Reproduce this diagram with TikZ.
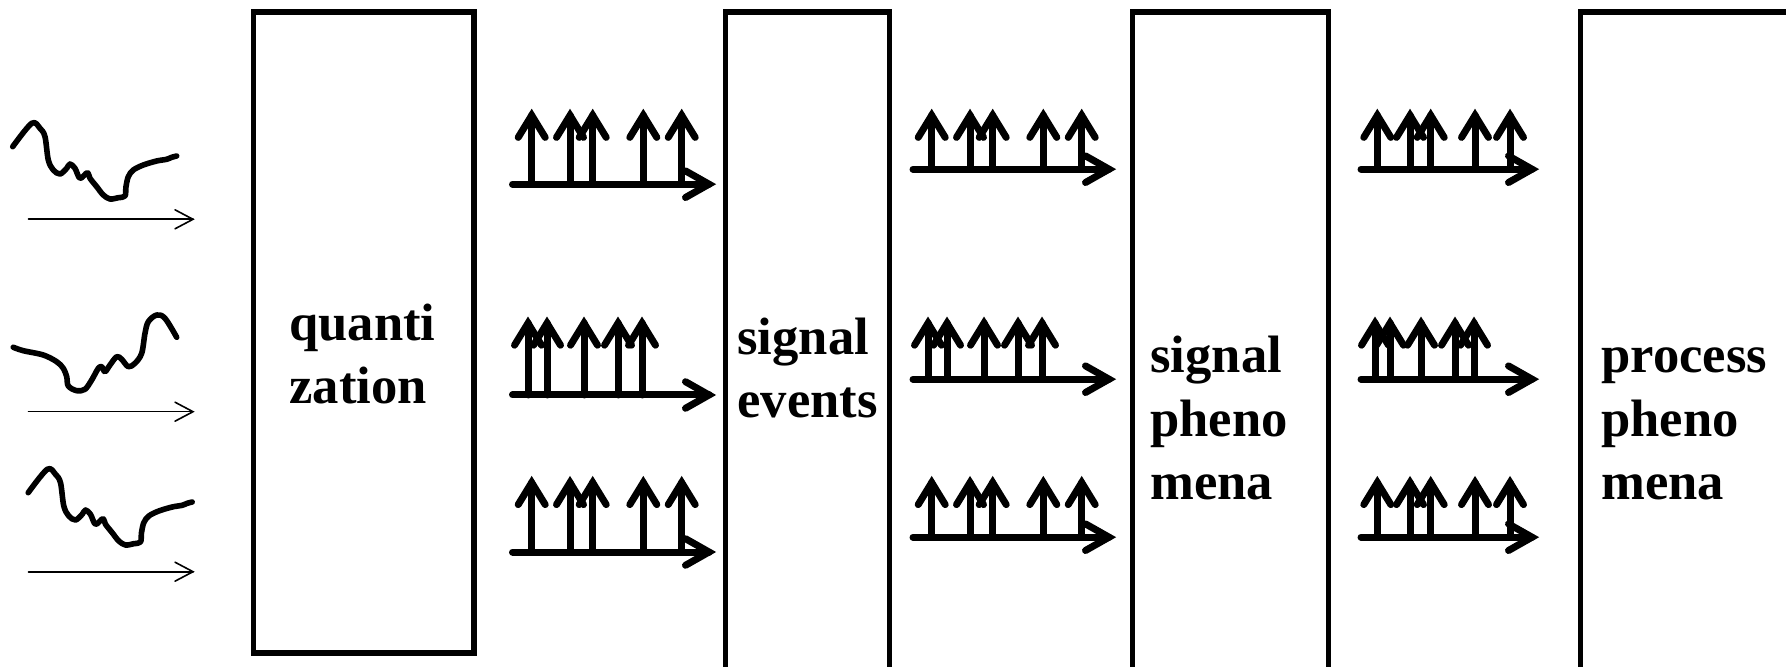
\documentclass[tikz,border=0pt]{standalone}
\usepackage{fontspec}
\setmainfont{Liberation Serif}
\usetikzlibrary{fit,calc}

% one spike train: axis from #1 to #2 at height #3, spikes rising to #4 at the x positions in #5
\newcommand\spiketrain[5]{%
  \draw[train] (#1,#3) -- (#2,#3);
  \draw[train, line join=miter] ($(#2,#3)+(-23.5,-13.3)$) -- (#2,#3) -- ($(#2,#3)+(-23.5,13.3)$);
  \foreach \s in {#5}{%
    \draw[train] (\s,#3) -- (\s,#4);
    \draw[train, line join=miter] ($(\s,#4)+(-13.5,22)$) -- (\s,#4) -- ($(\s,#4)+(13.5,22)$);
  }%
}
% thin time axis under an analogue signal
\newcommand\timeaxis[3]{%
  \draw[axisline] (#1,#3) -- (#2,#3);
  \draw[axisline] ($(#2,#3)+(-18,-9.5)$) -- (#2,#3) -- ($(#2,#3)+(-18,9.5)$);
}

\tikzset{
  blockbox/.style={draw, line width=2.75pt, inner sep=0pt},
  train/.style={line width=3.5pt, line cap=round},
  axisline/.style={line width=0.8pt, line cap=round},
  wave/.style={line width=2.8pt, line cap=round, line join=round},
  blocktext/.style={anchor=base west, align=left, inner sep=0pt,
    font=\fontsize{26.3pt}{31.5pt}\selectfont\bfseries},
}

\begin{document}
\begin{tikzpicture}[x=0.5pt, y=-0.5pt]
\useasboundingbox (0,0) rectangle (1786,667);
\clip (0,0) rectangle (1786,667);

% processing stages
\coordinate (q1) at (253.4,12);   \coordinate (q2) at (474,653.2);
\coordinate (e1) at (725.5,12);   \coordinate (e2) at (889.7,720);
\coordinate (s1) at (1132.7,12);  \coordinate (s2) at (1328.6,720);
\coordinate (p1) at (1580.4,12);  \coordinate (p2) at (1860,720);
\node[blockbox, fit=(q1)(q2)] (quant) {};
\node[blockbox, fit=(e1)(e2)] (events) {};
\node[blockbox, fit=(s1)(s2)] (sigphen) {};
\node[blockbox, fit=(p1)(p2)] (procphen) {};

% labels, anchored at the baseline of their last line
\node[blocktext] (tquant) at (289,404) {quanti\\zation};
\node[blocktext] (tevents) at (737,418) {signal\\events};
\node[blocktext] (tsig) at (1150,499) {signal\\pheno\\mena};
\node[blocktext] (tproc) at (1601,499) {process\\pheno\\mena};

% analogue input signals
\draw[wave] plot[smooth, tension=0.55] coordinates {
  (12.7,146.7) (31.7,123.3) (40,128.3) (45,136.7) (48.3,160) (53.3,170) (60,174)
  (66.7,168.3) (70,164) (75,168.3) (80,178.3) (87.3,172.7) (90,178.3) (96.7,186.7)
  (103.3,195) (110,199) (118.3,197.7) (125,196) (126,186.7) (128.3,176.7) (133.3,170)
  (143.3,165) (156.7,161) (166.7,159.3) (171.7,157.3) (176.7,156)};
\draw[wave] plot[smooth, tension=0.55] coordinates {
  (13.3,347.3) (23.3,350.7) (43.3,355) (56.7,361.7) (63.3,368.3) (66.7,376.7)
  (68.3,386) (76.7,390.7) (85,389.3) (91.7,380) (98.3,368.3) (101.7,366.7)
  (105,371.7) (110,365) (116.7,356.7) (121.7,359.3) (128.3,366.7) (135,363.3)
  (141.7,353.3) (145,333.3) (148.3,321.7) (156.7,315) (165,318.3) (176.7,337.3)};
\begin{scope}[shift={(15.5,346)}]
\draw[wave] plot[smooth, tension=0.55] coordinates {
  (12.7,146.7) (31.7,123.3) (40,128.3) (45,136.7) (48.3,160) (53.3,170) (60,174)
  (66.7,168.3) (70,164) (75,168.3) (80,178.3) (87.3,172.7) (90,178.3) (96.7,186.7)
  (103.3,195) (110,199) (118.3,197.7) (125,196) (126,186.7) (128.3,176.7) (133.3,170)
  (143.3,165) (156.7,161) (166.7,159.3) (171.7,157.3) (176.7,156)};
\end{scope}
\timeaxis{28.5}{193}{219.3}
\timeaxis{28.5}{193}{411.7}
\timeaxis{28.5}{193}{571.7}

% quantized event trains
\spiketrain{512.5}{709}{184.2}{115.4}{531.7,570,592.7,643.3,681.7}
\spiketrain{512.5}{709}{395}{323.2}{528,547,584,618,642}
\spiketrain{512.5}{709}{552}{482.6}{531.7,570,592.7,643.3,681.7}

\spiketrain{913}{1109}{169.2}{115.4}{931.7,970,992.7,1043.3,1081.7}
\spiketrain{913}{1109}{379.2}{323.2}{928,947,984,1018,1042}
\spiketrain{913}{1109}{537.2}{482.6}{931.7,970,992.7,1043.3,1081.7}

\spiketrain{1361}{1532}{169.2}{115.4}{1377.3,1410,1430.7,1475,1510}
\spiketrain{1361}{1532}{379.2}{323.2}{1375,1390,1421,1455,1474}
\spiketrain{1361}{1532}{537.2}{482.6}{1377.3,1410,1430.7,1475,1510}
\end{tikzpicture}
\end{document}
